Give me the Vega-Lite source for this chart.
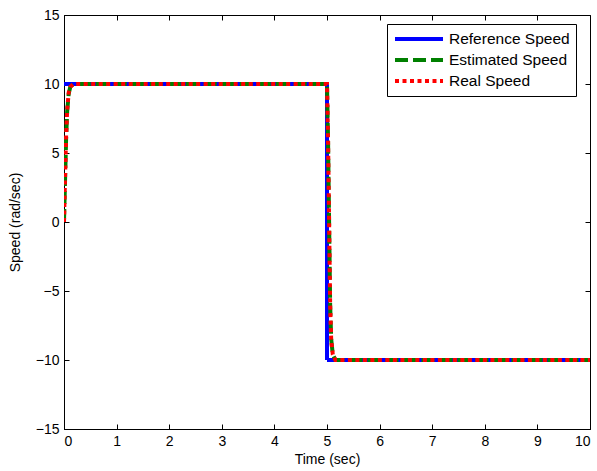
{
  "$schema": "https://vega.github.io/schema/vega-lite/v6.json",
  "autosize": "none",
  "width": 526,
  "height": 414,
  "padding": {"left": 64, "top": 15, "right": 7, "bottom": 42},
  "background": "white",
  "config": {
    "font": "Liberation Sans",
    "view": {"stroke": "black", "strokeWidth": 1},
    "axis": {
      "grid": false,
      "domainColor": "black",
      "tickColor": "black",
      "labelColor": "black",
      "titleColor": "black",
      "labelFont": "Liberation Sans",
      "titleFont": "Liberation Sans",
      "labelFontSize": 14,
      "titleFontSize": 14,
      "titleFontWeight": "normal",
      "tickSize": 5,
      "tickWidth": 1,
      "labelPadding": 5
    },
    "legend": {
      "symbolType": "stroke",
      "symbolSize": 2304,
      "symbolStrokeWidth": 4,
      "labelFontSize": 15.5,
      "labelFont": "Liberation Sans",
      "labelColor": "black",
      "strokeColor": "black",
      "fillColor": "white",
      "padding": 6,
      "rowPadding": 3,
      "clipHeight": 18,
      "labelOffset": 4
    }
  },
  "data": {
    "values": [
      {"series": "Reference Speed", "i": 0, "t": 0, "v": 10},
      {"series": "Reference Speed", "i": 1, "t": 5, "v": 10},
      {"series": "Reference Speed", "i": 2, "t": 5, "v": -10},
      {"series": "Reference Speed", "i": 3, "t": 10, "v": -10},

      {"series": "Estimated Speed", "i": 0, "t": 0, "v": 0},
      {"series": "Estimated Speed", "i": 1, "t": 0.02, "v": 3},
      {"series": "Estimated Speed", "i": 2, "t": 0.04, "v": 6},
      {"series": "Estimated Speed", "i": 3, "t": 0.06, "v": 8},
      {"series": "Estimated Speed", "i": 4, "t": 0.09, "v": 9.3},
      {"series": "Estimated Speed", "i": 5, "t": 0.12, "v": 9.8},
      {"series": "Estimated Speed", "i": 6, "t": 0.18, "v": 10},
      {"series": "Estimated Speed", "i": 7, "t": 5, "v": 10},
      {"series": "Estimated Speed", "i": 8, "t": 5.02, "v": 6},
      {"series": "Estimated Speed", "i": 9, "t": 5.04, "v": 0},
      {"series": "Estimated Speed", "i": 10, "t": 5.06, "v": -6},
      {"series": "Estimated Speed", "i": 11, "t": 5.08, "v": -8.5},
      {"series": "Estimated Speed", "i": 12, "t": 5.11, "v": -9.6},
      {"series": "Estimated Speed", "i": 13, "t": 5.16, "v": -10},
      {"series": "Estimated Speed", "i": 14, "t": 10, "v": -10},

      {"series": "Real Speed", "i": 0, "t": 0, "v": 0},
      {"series": "Real Speed", "i": 1, "t": 0.02, "v": 3.2},
      {"series": "Real Speed", "i": 2, "t": 0.04, "v": 6.2},
      {"series": "Real Speed", "i": 3, "t": 0.06, "v": 8.1},
      {"series": "Real Speed", "i": 4, "t": 0.09, "v": 9.4},
      {"series": "Real Speed", "i": 5, "t": 0.12, "v": 9.8},
      {"series": "Real Speed", "i": 6, "t": 0.18, "v": 10},
      {"series": "Real Speed", "i": 7, "t": 5, "v": 10},
      {"series": "Real Speed", "i": 8, "t": 5.02, "v": 6},
      {"series": "Real Speed", "i": 9, "t": 5.04, "v": 0},
      {"series": "Real Speed", "i": 10, "t": 5.06, "v": -6},
      {"series": "Real Speed", "i": 11, "t": 5.08, "v": -8.6},
      {"series": "Real Speed", "i": 12, "t": 5.11, "v": -9.6},
      {"series": "Real Speed", "i": 13, "t": 5.16, "v": -10},
      {"series": "Real Speed", "i": 14, "t": 10, "v": -10}
    ]
  },
  "encoding": {
    "x": {"field": "t", "type": "quantitative", "scale": {"domain": [0, 10], "nice": false, "zero": false}},
    "y": {"field": "v", "type": "quantitative", "scale": {"domain": [-15, 15], "nice": false, "zero": false}},
    "order": {"field": "i", "type": "quantitative"}
  },
  "layer": [
    {
      "transform": [{"filter": "datum.series === 'Reference Speed'"}],
      "mark": {"type": "line", "strokeWidth": 4, "strokeCap": "butt", "strokeJoin": "miter", "clip": true},
      "encoding": {
        "x": {"field": "t", "type": "quantitative", "axis": {"orient": "bottom", "title": "Time (sec)", "values": [0,1,2,3,4,5,6,7,8,9,10], "ticks": false, "titlePadding": 4}},
        "y": {"field": "v", "type": "quantitative", "axis": {"orient": "left", "title": "Speed (rad/sec)", "values": [-15,-10,-5,0,5,10,15], "ticks": false, "titlePadding": 13}},
        "color": {"field": "series", "type": "nominal", "scale": {"domain": ["Reference Speed", "Estimated Speed", "Real Speed"], "range": ["#0000ff", "#008000", "#ff0000"]},
          "legend": {"title": null, "orient": "none", "legendX": 323, "legendY": 9}},
        "strokeDash": {"field": "series", "type": "nominal", "scale": {"domain": ["Reference Speed", "Estimated Speed", "Real Speed"], "range": [[1, 0], [13, 5], [4, 3.5]]},
          "legend": {"title": null, "orient": "none", "legendX": 323, "legendY": 9}}
      }
    },
    {
      "transform": [{"filter": "datum.series === 'Estimated Speed'"}],
      "mark": {"type": "line", "strokeWidth": 4, "strokeCap": "butt", "strokeJoin": "miter", "clip": true},
      "encoding": {
        "x": {"field": "t", "type": "quantitative", "axis": {"orient": "top", "offset": -414, "title": null, "labels": false, "domain": false, "ticks": true, "values": [0,1,2,3,4,5,6,7,8,9,10]}},
        "y": {"field": "v", "type": "quantitative", "axis": {"orient": "right", "offset": -526, "title": null, "labels": false, "domain": false, "ticks": true, "values": [-15,-10,-5,0,5,10,15]}},
        "color": {"field": "series", "type": "nominal"},
        "strokeDash": {"field": "series", "type": "nominal"}
      }
    },
    {
      "transform": [{"filter": "datum.series === 'Real Speed'"}],
      "mark": {"type": "line", "strokeWidth": 4, "strokeCap": "butt", "strokeJoin": "miter", "clip": true},
      "encoding": {
        "x": {"field": "t", "type": "quantitative", "axis": {"orient": "bottom", "offset": -414, "title": null, "labels": false, "domain": false, "ticks": true, "values": [0,1,2,3,4,5,6,7,8,9,10]}},
        "y": {"field": "v", "type": "quantitative", "axis": {"orient": "left", "offset": -526, "title": null, "labels": false, "domain": false, "ticks": true, "values": [-15,-10,-5,0,5,10,15]}},
        "color": {"field": "series", "type": "nominal"},
        "strokeDash": {"field": "series", "type": "nominal"}
      }
    }
  ],
  "resolve": {"axis": {"x": "independent", "y": "independent"}}
}
